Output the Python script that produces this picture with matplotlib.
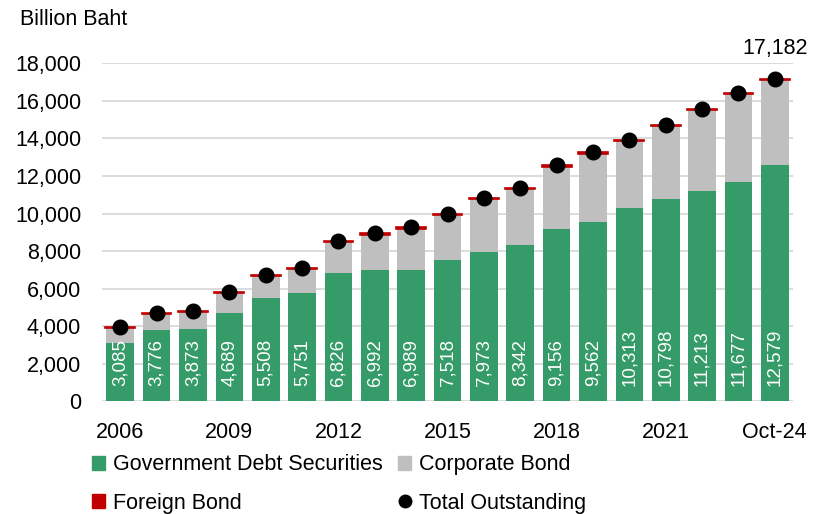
import numpy as np
import matplotlib
matplotlib.use('Agg')
import matplotlib.pyplot as plt
from matplotlib.lines import Line2D
from matplotlib.patches import Patch

plt.rcParams['font.family'] = ['Liberation Sans', 'DejaVu Sans']

# data (billion baht)
years = ['2006', '2007', '2008', '2009', '2010', '2011', '2012', '2013', '2014',
         '2015', '2016', '2017', '2018', '2019', '2020', '2021', '2022', '2023',
         'Oct-24']
gov = [3085, 3776, 3873, 4689, 5508, 5751, 6826, 6992, 6989, 7518, 7973,
       8342, 9156, 9562, 10313, 10798, 11213, 11677, 12579]
corp = [805, 854, 897, 1091, 1142, 1269, 1664, 1888, 2211, 2402, 2797,
        2958, 3344, 3628, 3547, 3842, 4297, 4683, 4533]
foreign = [50, 60, 60, 60, 60, 60, 70, 90, 70, 70, 70, 70, 70, 70, 70,
           70, 70, 70, 70]
total = [3940, 4690, 4830, 5840, 6710, 7080, 8560, 8970, 9270, 9990, 10840,
         11370, 12570, 13260, 13930, 14710, 15580, 16430, 17182]
shown_ticks = [0, 3, 6, 9, 12, 15, 18]

c_gov = '#359B69'
c_corp = '#BFBFBF'
c_for = '#C00000'
fs = 15.5

fig = plt.figure(figsize=(8.15, 5.14), dpi=100)
ax = fig.add_axes([0.1252, 0.2193, 0.8478, 0.6575])

x = np.arange(len(years))
gov = np.array(gov)
corp = np.array(corp)
foreign = np.array(foreign)
w = 0.76
ax.bar(x, gov, w, color=c_gov, zorder=2)
ax.bar(x, corp, w, bottom=gov, color=c_corp, zorder=2)
ax.bar(x, foreign, w + 0.06, bottom=gov + corp, color=c_for,
       edgecolor=c_for, linewidth=1.2, zorder=3)
ax.plot(x, total, 'o', color='black', markersize=10.5, zorder=4,
        linestyle='none')

for xi, g in zip(x, gov):
    ax.text(xi, 820, f'{g:,}', rotation=90, ha='center', va='bottom',
            color='white', fontsize=13.5, zorder=5)

ax.text(x[-1], 18230, f'{total[-1]:,}', ha='center', va='bottom',
        fontsize=fs, clip_on=False)

ax.set_xlim(-0.5, len(years) - 0.5)
ax.set_ylim(0, 18000)
ax.set_yticks(np.arange(0, 18001, 2000))
ax.set_yticklabels([f'{v:,}' for v in range(0, 18001, 2000)], fontsize=fs)
ax.set_xticks(x[shown_ticks])
ax.set_xticklabels([years[i] for i in shown_ticks], fontsize=fs)
ax.tick_params(axis='both', length=0)
ax.tick_params(axis='y', pad=15)
ax.tick_params(axis='x', pad=15)
ax.grid(axis='y', color='#D9D9D9', linewidth=1.3, zorder=0)
ax.set_axisbelow(True)
for s in ax.spines.values():
    s.set_visible(False)

fig.text(0.025, 0.962, 'Billion Baht', fontsize=fs, va='center', ha='left')

handles = [Patch(color=c_gov), Patch(color=c_for), Patch(color=c_corp),
           Line2D([], [], marker='o', color='black', linestyle='none',
                  markersize=9)]
labels = ['Government Debt Securities', 'Foreign Bond', 'Corporate Bond',
          'Total Outstanding']
fig.legend(handles, labels, ncol=2, loc='upper left',
           bbox_to_anchor=(0.113, 0.116), frameon=False, fontsize=fs,
           handlelength=0.6, handleheight=0.6, handletextpad=0.35,
           labelspacing=0.8, columnspacing=0.75, borderaxespad=0,
           borderpad=0)

fig.savefig('out.png', dpi=100)
